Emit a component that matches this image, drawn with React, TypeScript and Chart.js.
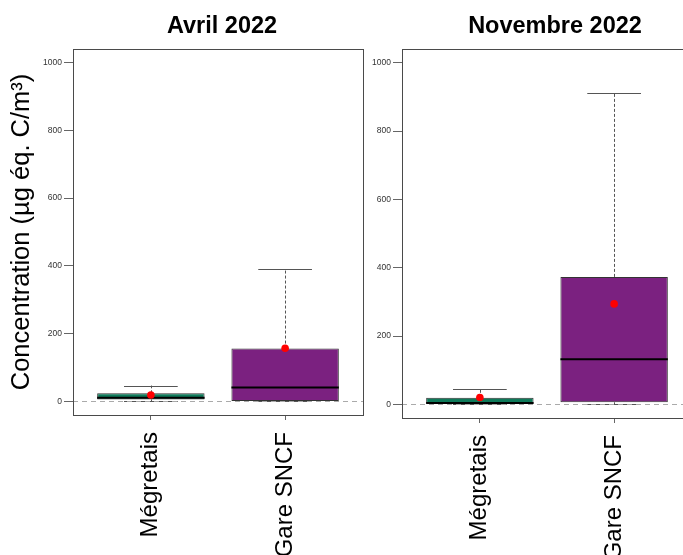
import React, { useEffect, useRef } from 'react';
import { Chart, registerables } from 'chart.js';

Chart.register(...registerables);

const FONT = '"Liberation Sans", Arial, Helvetica, sans-serif';
Chart.defaults.font.family = FONT;

// Sampling sites and axis ticks
const sites = ['Mégretais', 'Gare SNCF'];
const yTickValues = [0, 200, 400, 600, 800, 1000];
const yTitle = 'Concentration (µg éq. C/m³)';

// Avril 2022 — box statistics per site
const aprilLow = [0, 0];
const aprilQ1 = [6, 1];
const aprilMedian = [11, 41];
const aprilQ3 = [24, 156];
const aprilHigh = [47, 390];
const aprilMean = [19, 157];

// Novembre 2022 — box statistics per site
const novLow = [0, 0];
const novQ1 = [2, 6];
const novMedian = [4, 132];
const novQ3 = [19, 373];
const novHigh = [46, 912];
const novMean = [20, 294];

const boxColors = ['#0f7a5a', '#7b2180'];

type Stats = {
  low: number[];
  q1: number[];
  median: number[];
  q3: number[];
  high: number[];
  mean: number[];
};

// Panel title drawn centred above the plot region
const panelTitlePlugin = {
  id: 'panelTitle',
  afterDraw(chart: any, _args: any, opts: any) {
    const { ctx, chartArea } = chart;
    ctx.save();
    ctx.font = `bold 23.5px ${FONT}`;
    ctx.fillStyle = '#000';
    ctx.textAlign = 'center';
    ctx.textBaseline = 'alphabetic';
    ctx.fillText(opts.text, (chartArea.left + chartArea.right) / 2 + opts.shift, opts.baseline);
    ctx.restore();
  },
};

// Whiskers, caps, medians and the zero reference line of the box plots
const boxPlotPlugin = {
  id: 'boxPlot',
  beforeDatasetsDraw(chart: any, _args: any, opts: any) {
    const { ctx, scales } = chart;
    const { x, y } = scales;
    const s: Stats = opts.stats;
    ctx.save();
    ctx.strokeStyle = '#555';
    ctx.lineWidth = 1;
    ctx.setLineDash([3, 2]);
    s.q1.forEach((_v, i) => {
      const px = Math.round(x.getPixelForValue(i + 1)) + 0.5;
      ctx.beginPath();
      ctx.moveTo(px, y.getPixelForValue(s.q3[i]));
      ctx.lineTo(px, y.getPixelForValue(s.high[i]));
      ctx.moveTo(px, y.getPixelForValue(s.q1[i]));
      ctx.lineTo(px, y.getPixelForValue(s.low[i]));
      ctx.stroke();
    });
    ctx.restore();
  },
  afterDatasetDraw(chart: any, args: any, opts: any) {
    if (args.index !== 0) return;
    const { ctx, scales, chartArea } = chart;
    const { x, y } = scales;
    const s: Stats = opts.stats;
    ctx.save();
    // whisker caps
    ctx.strokeStyle = '#555';
    ctx.lineWidth = 1;
    s.q1.forEach((_v, i) => {
      const l = x.getPixelForValue(i + 1 - 0.2);
      const r = x.getPixelForValue(i + 1 + 0.2);
      [s.high[i], s.low[i]].forEach((v) => {
        const py = Math.round(y.getPixelForValue(v)) + 0.5;
        ctx.beginPath();
        ctx.moveTo(l, py);
        ctx.lineTo(r, py);
        ctx.stroke();
      });
    });
    // medians
    ctx.strokeStyle = '#000';
    ctx.lineWidth = 2;
    s.median.forEach((m, i) => {
      const l = x.getPixelForValue(i + 1 - 0.4);
      const r = x.getPixelForValue(i + 1 + 0.4);
      const py = y.getPixelForValue(m);
      ctx.beginPath();
      ctx.moveTo(l, py);
      ctx.lineTo(r, py);
      ctx.stroke();
    });
    // dashed zero line
    ctx.strokeStyle = '#aaa';
    ctx.lineWidth = 1;
    ctx.setLineDash([5, 4]);
    const zy = Math.round(y.getPixelForValue(0)) + 0.5;
    ctx.beginPath();
    ctx.moveTo(chartArea.left, zy);
    ctx.lineTo(chartArea.right, zy);
    ctx.stroke();
    ctx.restore();
  },
  afterDraw(chart: any) {
    const { ctx, chartArea } = chart;
    ctx.save();
    ctx.strokeStyle = '#4a4a4a';
    ctx.lineWidth = 1;
    ctx.strokeRect(
      Math.round(chartArea.left) + 0.5,
      Math.round(chartArea.top) + 0.5,
      Math.round(chartArea.right - chartArea.left),
      Math.round(chartArea.bottom - chartArea.top)
    );
    ctx.restore();
  },
};

type PanelProps = {
  title: string;
  stats: Stats;
  showYTitle: boolean;
  left: number;
  width: number;
  yAxisWidth: number;
  padRight: number;
  xAxisHeight: number;
  titleShift: number;
};

function BoxPanel(p: PanelProps) {
  const ref = useRef<HTMLCanvasElement | null>(null);

  useEffect(() => {
    if (!ref.current) return;
    const s = p.stats;
    const chart = new Chart(ref.current, {
      type: 'bar',
      data: {
        datasets: [
          {
            type: 'bar',
            data: sites.map((_n, i) => ({ x: i + 1, y: [s.q1[i], s.q3[i]] })) as any,
            backgroundColor: boxColors,
            borderColor: '#333',
            borderWidth: 1,
            borderSkipped: false,
            barPercentage: 0.8,
            categoryPercentage: 1,
            order: 1,
          },
          {
            type: 'scatter',
            data: sites.map((_n, i) => ({ x: i + 1, y: s.mean[i] })),
            pointRadius: 3.8,
            pointBackgroundColor: '#ff0000',
            pointBorderWidth: 0,
            order: 0,
          } as any,
        ],
      },
      options: {
        responsive: false,
        animation: false,
        events: [],
        layout: { padding: { top: 49, right: p.padRight, left: 0, bottom: 0 } },
        plugins: {
          legend: { display: false },
          tooltip: { enabled: false },
          panelTitle: { text: p.title, shift: p.titleShift, baseline: 33 },
          boxPlot: { stats: s },
        } as any,
        scales: {
          x: {
            type: 'linear',
            min: 0.42,
            max: 2.58,
            offset: false,
            afterBuildTicks: (sc: any) => {
              sc.ticks = sites.map((_n, i) => ({ value: i + 1 }));
            },
            afterFit: (sc: any) => {
              sc.height = p.xAxisHeight;
              sc.paddingLeft = 0;
              sc.paddingRight = 0;
            },
            ticks: {
              autoSkip: false,
              minRotation: 90,
              maxRotation: 90,
              padding: 12,
              color: '#000',
              font: { size: 24 },
              callback: (v: any) => sites[Math.round(Number(v)) - 1] ?? '',
            },
            grid: { offset: false, drawOnChartArea: false, drawTicks: true, tickLength: 5, color: '#666' },
            border: { display: false },
          },
          y: {
            type: 'linear',
            min: -40,
            max: 1040,
            afterBuildTicks: (sc: any) => {
              sc.ticks = yTickValues.map((v) => ({ value: v }));
            },
            afterFit: (sc: any) => {
              sc.width = p.yAxisWidth;
              sc.paddingTop = 0;
              sc.paddingBottom = 0;
            },
            ticks: {
              padding: 2,
              color: '#333',
              font: { size: 8.5 },
              callback: (v: any) => String(v),
            },
            grid: { drawOnChartArea: false, drawTicks: true, tickLength: 9, color: '#666' },
            border: { display: false },
            title: {
              display: p.showYTitle,
              text: yTitle,
              color: '#000',
              font: { size: 25.5 },
              padding: { top: 7, bottom: 0 },
            },
          },
        } as any,
      },
      plugins: [boxPlotPlugin, panelTitlePlugin],
    });
    return () => chart.destroy();
  }, []);

  return (
    <canvas
      ref={ref}
      width={p.width}
      height={555}
      style={{ position: 'absolute', left: p.left, top: 0, display: 'block' }}
    />
  );
}

const aprilStats: Stats = {
  low: aprilLow,
  q1: aprilQ1,
  median: aprilMedian,
  q3: aprilQ3,
  high: aprilHigh,
  mean: aprilMean,
};

const novStats: Stats = {
  low: novLow,
  q1: novQ1,
  median: novMedian,
  q3: novQ3,
  high: novHigh,
  mean: novMean,
};

export default function App() {
  return (
    <div
      style={{
        position: 'fixed',
        left: 0,
        top: 0,
        width: 683,
        height: 555,
        overflow: 'hidden',
        background: '#fff',
      }}
    >
      <BoxPanel
        title="Avril 2022"
        stats={aprilStats}
        showYTitle={true}
        left={0}
        width={375}
        yAxisWidth={73}
        padRight={12}
        xAxisHeight={140}
        titleShift={4}
      />
      <BoxPanel
        title="Novembre 2022"
        stats={novStats}
        showYTitle={false}
        left={368}
        width={340}
        yAxisWidth={34}
        padRight={16}
        xAxisHeight={137}
        titleShift={8}
      />
    </div>
  );
}
